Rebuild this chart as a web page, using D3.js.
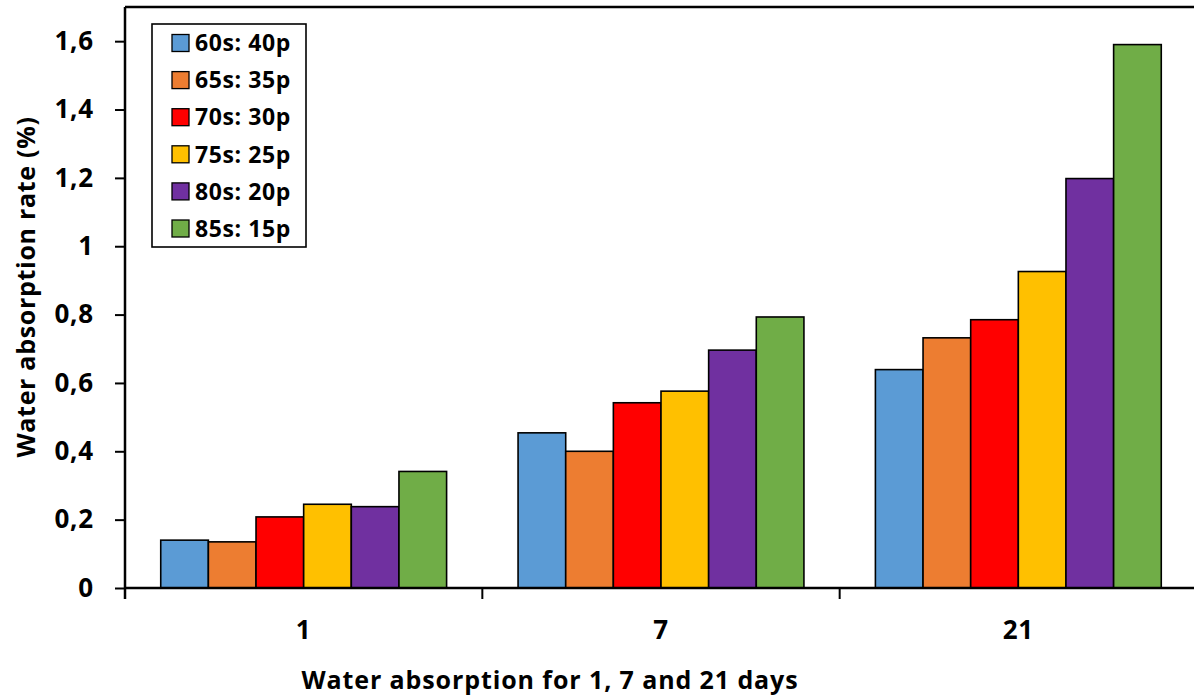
<!DOCTYPE html>
<html>
<head>
<meta charset="utf-8">
<script src="https://cdn.jsdelivr.net/npm/d3@7"></script>
<style>
  html, body { margin: 0; padding: 0; background: #fff; }
  svg { display: block; font-family: "Open Sans", Lato, sans-serif; font-weight: bold; }
</style>
</head>
<body>
<svg id="chart" width="1194" height="699"></svg>
<script>
// Immersion periods (days)
const categories = ["1", "7", "21"];
// Mix ratios (legend labels)
const seriesNames = ["60s: 40p", "65s: 35p", "70s: 30p", "75s: 25p", "80s: 20p", "85s: 15p"];
const seriesColors = ["#5B9BD5", "#ED7D31", "#FF0000", "#FFC000", "#7030A0", "#70AD47"];
// Water absorption rate (%) per mix, for days 1, 7, 21
const s60 = [0.14, 0.454, 0.639];
const s65 = [0.135, 0.40, 0.732];
const s70 = [0.208, 0.542, 0.785];
const s75 = [0.245, 0.576, 0.926];
const s80 = [0.238, 0.696, 1.198];
const s85 = [0.341, 0.793, 1.590];
const seriesValues = [s60, s65, s70, s75, s80, s85];
const yTicks = [0, 0.2, 0.4, 0.6, 0.8, 1, 1.2, 1.4, 1.6];
const yMax = 1.7;

const svg = d3.select("#chart");
const margin = { left: 125, top: 7, right: -3, bottom: 111 };
const W = 1194, H = 699;
const plotW = W - margin.left - margin.right;
const plotH = H - margin.top - margin.bottom;

const x0 = d3.scaleBand().domain(categories).range([0, plotW]).paddingInner(0).paddingOuter(0);
const x1 = d3.scaleBand().domain(seriesNames).range([x0.bandwidth() * 0.1, x0.bandwidth() * 0.9]);
const y = d3.scaleLinear().domain([0, yMax]).range([plotH, 0]);

const g = svg.append("g").attr("transform", `translate(${margin.left},${margin.top})`);

// top border of the plot area
g.append("line").attr("x1", 0).attr("x2", plotW).attr("y1", 0).attr("y2", 0)
  .attr("stroke", "#000").attr("stroke-width", 2.5);

// bars
const groups = g.selectAll("g.cat").data(categories).join("g")
  .attr("class", "cat")
  .attr("transform", d => `translate(${x0(d)},0)`);

groups.selectAll("rect").data((c, ci) => seriesNames.map((s, si) => ({ s, si, v: seriesValues[si][ci] })))
  .join("rect")
  .attr("x", d => x1(d.s))
  .attr("width", x1.bandwidth())
  .attr("y", d => y(d.v))
  .attr("height", d => y(0) - y(d.v))
  .attr("fill", d => seriesColors[d.si])
  .attr("stroke", "#000")
  .attr("stroke-width", 1.6);

// y axis
const yAxis = g.append("g")
  .call(d3.axisLeft(y).tickValues(yTicks).tickSize(10).tickPadding(21)
    .tickFormat(d => d3.format("~g")(d).replace(".", ",")));
yAxis.select(".domain").attr("stroke-width", 2.5).attr("d", `M0,${plotH + 11}V0`);
yAxis.selectAll(".tick line").attr("stroke-width", 2);
yAxis.selectAll("text").attr("font-size", 26).attr("font-weight", "bold")
  .attr("font-family", "'Open Sans', sans-serif").attr("fill", "#000")
  .attr("letter-spacing", 0.8);

// x axis with tick marks at category boundaries
const xAxis = g.append("g").attr("transform", `translate(0,${plotH})`);
xAxis.append("line").attr("x1", 0).attr("x2", plotW).attr("stroke", "#000").attr("stroke-width", 2.5);
const bounds = categories.slice(1).map(c => x0(c));
xAxis.selectAll("line.tk").data(bounds).join("line").attr("class", "tk")
  .attr("x1", d => d).attr("x2", d => d).attr("y1", 0).attr("y2", 11)
  .attr("stroke", "#000").attr("stroke-width", 2);
xAxis.selectAll("text.cl").data(categories).join("text").attr("class", "cl")
  .attr("x", d => x0(d) + x0.bandwidth() / 2)
  .attr("y", 51)
  .attr("text-anchor", "middle")
  .attr("font-size", 26)
  .attr("letter-spacing", 0.8)
  .text(d => d);

// axis titles
svg.append("text")
  .attr("x", 550).attr("y", 689)
  .attr("text-anchor", "middle")
  .attr("font-size", 25)
  .attr("letter-spacing", 0.9)
  .text("Water absorption for 1, 7 and 21 days");

svg.append("text")
  .attr("transform", "translate(35,287) rotate(-90)")
  .attr("text-anchor", "middle")
  .attr("font-size", 25)
  .attr("letter-spacing", 0.7)
  .text("Water absorption rate (%)");

// legend
const legend = svg.append("g").attr("transform", "translate(152,24)");
legend.append("rect").attr("width", 154).attr("height", 223)
  .attr("fill", "#fff").attr("stroke", "#000").attr("stroke-width", 1.6);
const rowH = 37.1;
const items = legend.selectAll("g.item").data(seriesNames).join("g").attr("class", "item")
  .attr("transform", (d, i) => `translate(0,${19 + i * rowH})`);
items.append("rect").attr("x", 20).attr("y", -8.5).attr("width", 17).attr("height", 17)
  .attr("fill", (d, i) => seriesColors[i]).attr("stroke", "#000").attr("stroke-width", 1.3);
items.append("text").attr("x", 43).attr("y", 0).attr("dy", "0.36em")
  .attr("font-size", 23).attr("letter-spacing", 0.6).text(d => d);
</script>
</body>
</html>
